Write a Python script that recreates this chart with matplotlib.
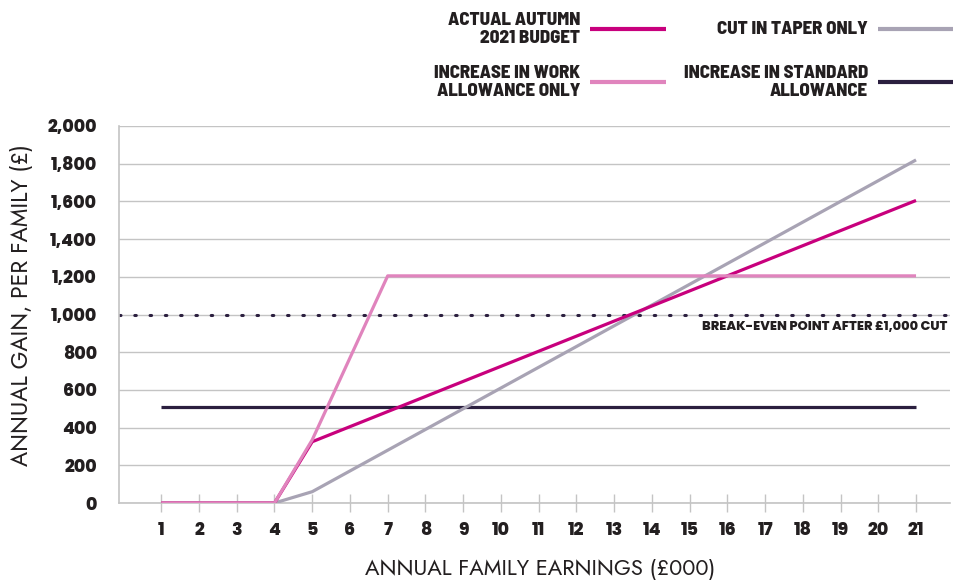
import matplotlib
matplotlib.use("Agg")
import matplotlib.pyplot as plt
from matplotlib.lines import Line2D

# Annual family earnings (£000)
earnings = list(range(1, 22))

# Annual gain per family (£) under each policy scenario
actual_budget = [0, 0, 0, 0, 325, 405, 485, 565, 645, 725, 805, 885, 965,
                 1045, 1125, 1205, 1285, 1365, 1445, 1525, 1605]
taper_only = [0, 0, 0, 0, 60, 170, 280, 390, 500, 610, 720, 830, 940,
              1050, 1160, 1270, 1380, 1490, 1600, 1710, 1820]
work_allowance_only = [0, 0, 0, 0, 335, 770, 1205, 1205, 1205, 1205, 1205,
                       1205, 1205, 1205, 1205, 1205, 1205, 1205, 1205, 1205, 1205]
standard_allowance = [510] * 21

break_even = 1000
y_ticks = [0, 200, 400, 600, 800, 1000, 1200, 1400, 1600, 1800, 2000]

series_labels = ["ACTUAL AUTUMN\n2021 BUDGET", "CUT IN TAPER ONLY",
                 "INCREASE IN WORK\nALLOWANCE ONLY", "INCREASE IN STANDARD\nALLOWANCE"]

C_ACTUAL = "#c8007d"
C_TAPER = "#a8a3b4"
C_WORK = "#e084bd"
C_STD = "#2b1f3f"
C_TEXT = "#231f20"
C_GRID = "#c4c4c4"

HEAVY = ["Poppins", "Lato", "DejaVu Sans"]
CONDENSED = ["Barlow Semi Condensed", "Roboto Condensed", "DejaVu Sans"]
LIGHT = ["Jost", "Lato", "DejaVu Sans"]

fig = plt.figure(figsize=(9.54, 5.8), dpi=100)
ax = fig.add_axes([119 / 954, 77 / 580, (950 - 119) / 954, (503 - 126) / 580])

lw = 2.3
ax.plot(earnings, standard_allowance, color=C_STD, lw=lw, solid_capstyle="butt", zorder=3)
ax.plot(earnings, taper_only, color=C_TAPER, lw=lw, solid_capstyle="butt", zorder=4)
ax.plot(earnings, actual_budget, color=C_ACTUAL, lw=lw, solid_capstyle="butt", zorder=5)
ax.plot(earnings, work_allowance_only, color=C_WORK, lw=lw, solid_capstyle="butt", zorder=6)

ax.axhline(break_even, color=C_STD, lw=2.2, linestyle=(0, (0.5, 4.5)),
           dash_capstyle="round", zorder=2)
ax.text(0.997, break_even - 35, "BREAK-EVEN POINT AFTER £1,000 CUT",
        transform=ax.get_yaxis_transform(), ha="right", va="top",
        fontsize=9.3, fontweight="heavy", family=HEAVY, color=C_TEXT)

ax.set_xlim(-0.12, 21.9)
ax.set_ylim(0, 2000)
ax.set_yticks(y_ticks)
ax.set_yticklabels([f"{v:,}" for v in y_ticks])
ax.set_xticks(earnings)
ax.set_xticklabels([str(e) for e in earnings])

ax.grid(axis="y", color=C_GRID, lw=1.0, zorder=0)
ax.set_axisbelow(True)
for side in ["top", "right"]:
    ax.spines[side].set_visible(False)
for side in ["left", "bottom"]:
    ax.spines[side].set_color(C_GRID)
    ax.spines[side].set_linewidth(1.2)

ax.tick_params(axis="x", direction="inout", length=13, width=1.0, color=C_GRID,
               pad=7, labelsize=12.5, labelcolor=C_TEXT)
ax.tick_params(axis="y", length=0, pad=16, labelsize=12.5, labelcolor=C_TEXT)
for lab in ax.get_xticklabels() + ax.get_yticklabels():
    lab.set_fontweight("heavy")
    lab.set_family(HEAVY)

fig.text(540 / 954, 1 - 569 / 580, "ANNUAL FAMILY EARNINGS (£000)", ha="center", va="center",
         fontsize=15.8, family=LIGHT, fontweight="normal", color=C_TEXT)
fig.text(22 / 954, 1 - 305 / 580, "ANNUAL GAIN, PER FAMILY (£)", ha="center", va="center",
         rotation=90, fontsize=16.5, family=LIGHT, fontweight="normal", color=C_TEXT)

# Legend built from text and short line swatches above the plot
legend_items = [
    (series_labels[0], C_ACTUAL, 580, 590, 666, 29),
    (series_labels[1], C_TAPER, 868, 878, 954, 29),
    (series_labels[2], C_WORK, 580, 590, 666, 82),
    (series_labels[3], C_STD, 868, 878, 954, 82),
]
for label, color, tx, x0, x1, yy in legend_items:
    fig.text(tx / 954, 1 - yy / 580, label, ha="right", va="center", ma="right",
             fontsize=13.6, fontweight="heavy", family=CONDENSED, color=C_TEXT,
             linespacing=1.2)
    fig.add_artist(Line2D([x0 / 954, x1 / 954], [1 - yy / 580, 1 - yy / 580],
                          color=color, lw=3.0, solid_capstyle="butt",
                          transform=fig.transFigure))

fig.savefig("out.png", dpi=100)
